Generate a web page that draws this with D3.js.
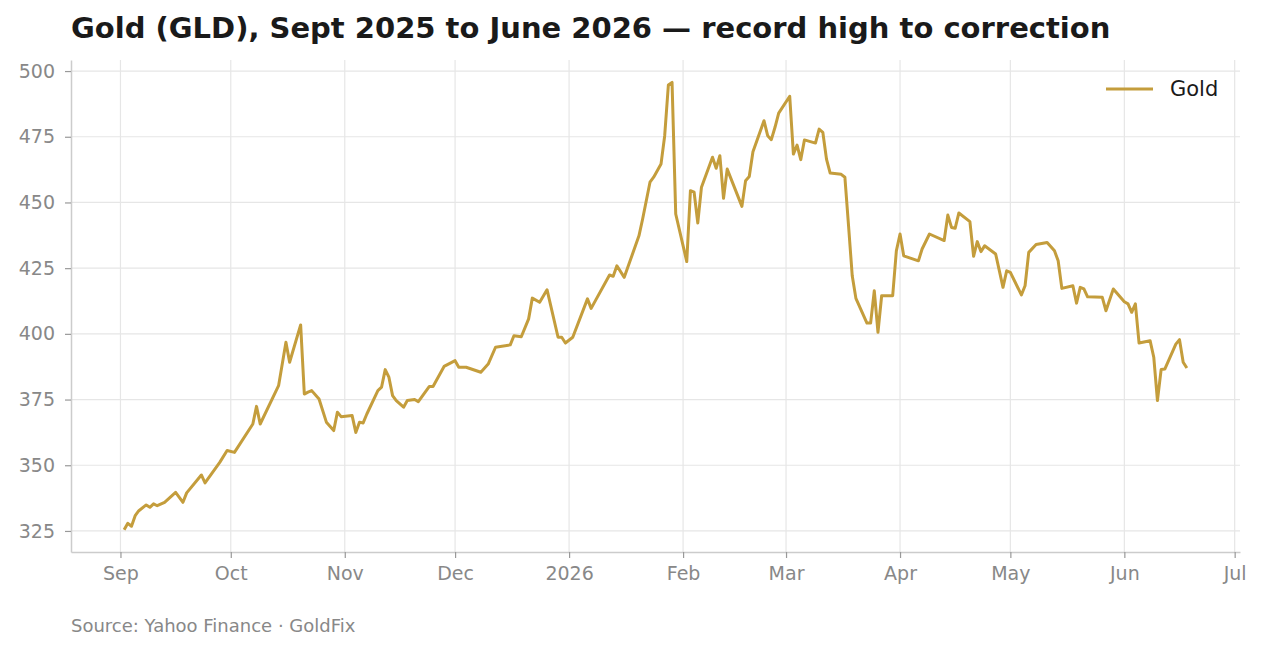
<!DOCTYPE html>
<html>
<head>
<meta charset="utf-8">
<script src="https://cdn.jsdelivr.net/npm/d3@7/dist/d3.min.js"></script>
<style>
body{margin:0;background:#fff;}
svg{display:block;font-family:'DejaVu Sans',sans-serif;}
</style>
</head>
<body>
<div id="root"></div>
<script>
// GLD closes
var dates=['2025-09-02','2025-09-03','2025-09-04','2025-09-05','2025-09-06','2025-09-08','2025-09-09','2025-09-10','2025-09-11','2025-09-13','2025-09-16','2025-09-18','2025-09-19','2025-09-23','2025-09-24','2025-09-28','2025-09-30',
'2025-10-02','2025-10-07','2025-10-08','2025-10-09','2025-10-14','2025-10-16','2025-10-17','2025-10-20','2025-10-21','2025-10-22','2025-10-23','2025-10-25','2025-10-27','2025-10-29','2025-10-30','2025-10-31',
'2025-11-03','2025-11-04','2025-11-05','2025-11-06','2025-11-07','2025-11-10','2025-11-11','2025-11-12','2025-11-13','2025-11-14','2025-11-15','2025-11-17','2025-11-18','2025-11-20','2025-11-21','2025-11-24','2025-11-25','2025-11-28',
'2025-12-01','2025-12-02','2025-12-04','2025-12-08','2025-12-10','2025-12-12','2025-12-16','2025-12-17','2025-12-19','2025-12-21','2025-12-22','2025-12-24','2025-12-26','2025-12-29','2025-12-30','2025-12-31',
'2026-01-02','2026-01-06','2026-01-07','2026-01-12','2026-01-13','2026-01-14','2026-01-16','2026-01-20','2026-01-21','2026-01-23','2026-01-24','2026-01-26','2026-01-27','2026-01-28','2026-01-29','2026-01-30',
'2026-02-02','2026-02-03','2026-02-04','2026-02-05','2026-02-06','2026-02-09','2026-02-10','2026-02-11','2026-02-12','2026-02-13','2026-02-17','2026-02-18','2026-02-19','2026-02-20','2026-02-23','2026-02-24','2026-02-25','2026-02-26','2026-02-27',
'2026-03-02','2026-03-03','2026-03-04','2026-03-05','2026-03-06','2026-03-09','2026-03-10','2026-03-11','2026-03-12','2026-03-13','2026-03-16','2026-03-17','2026-03-18','2026-03-19','2026-03-20','2026-03-23','2026-03-24','2026-03-25','2026-03-26','2026-03-27','2026-03-30','2026-03-31',
'2026-04-01','2026-04-02','2026-04-06','2026-04-07','2026-04-09','2026-04-13','2026-04-14','2026-04-15','2026-04-16','2026-04-17','2026-04-20','2026-04-21','2026-04-22','2026-04-23','2026-04-24','2026-04-27','2026-04-29','2026-04-30',
'2026-05-01','2026-05-04','2026-05-05','2026-05-06','2026-05-08','2026-05-11','2026-05-13','2026-05-14','2026-05-15','2026-05-18','2026-05-19','2026-05-20','2026-05-21','2026-05-22','2026-05-26','2026-05-27','2026-05-29',
'2026-06-01','2026-06-02','2026-06-03','2026-06-04','2026-06-05','2026-06-08','2026-06-09','2026-06-10','2026-06-11','2026-06-12','2026-06-15','2026-06-16','2026-06-17','2026-06-18'];

var prices=[325.5,327.9,326.8,330.8,332.7,334.9,334.0,335.3,334.6,335.9,339.7,335.9,339.5,346.3,343.3,351.1,355.6,
354.9,365.7,372.4,365.7,380.3,396.8,389.2,403.4,377.1,377.8,378.4,375.2,366.4,363.2,370.2,368.5,
368.9,362.5,366.4,366.1,369.5,378.4,379.7,386.4,383.5,376.5,374.6,372.1,374.6,375.0,374.2,380.0,380.0,387.6,
389.8,387.3,387.3,385.4,388.5,394.9,395.8,399.3,398.9,405.7,413.6,412.0,416.8,398.7,398.7,396.5,
398.7,413.3,409.7,422.4,421.9,425.9,421.5,437.3,443.7,457.7,459.6,464.6,475.4,494.7,495.7,445.6,
427.5,454.5,453.9,442.2,455.8,467.2,463.0,467.8,451.6,462.7,448.5,458.3,459.9,469.3,481.1,475.4,473.9,478.6,484.0,
490.4,468.4,471.8,466.3,473.8,472.6,477.9,476.7,466.5,461.2,460.7,459.6,441.1,422.1,413.5,404.1,404.1,416.4,400.6,414.5,414.5,431.6,
438.0,429.7,427.8,432.3,438.0,435.5,445.2,440.5,440.2,446.0,442.7,429.5,435.1,431.3,433.5,430.4,417.7,424.0,
423.4,414.8,418.3,431.0,434.0,434.8,431.6,427.8,417.3,418.3,411.7,417.7,417.1,414.1,413.9,408.8,417.1,
412.2,411.4,408.2,411.4,396.5,397.4,391.1,374.6,386.4,386.6,396.1,397.8,389.2,387.0];

var yTicks=[325,350,375,400,425,450,475,500];
var seriesName='Gold';
var title='Gold (GLD), Sept 2025 to June 2026 \u2014 record high to correction';
var source='Source: Yahoo Finance \u00b7 GoldFix';

var W=1263,H=652;
var b={t:60,r:23,b:100,l:71};
var w=W-b.l-b.r, h=H-b.t-b.b;
var gold='#c49d3c';

var parse=d3.timeParse('%Y-%m-%d');
var data=dates.map(function(d,i){return {date:parse(d),v:prices[i]}});

var svg=d3.select('#root').append('svg').attr('width',W).attr('height',H);
var g=svg.append('g').attr('transform','translate('+b.l+','+b.t+')');

// matplotlib-style 5% margins
var xe=d3.extent(data,function(d){return d.date});
var xpad=(xe[1]-xe[0])*0.05;
var x=d3.scaleTime().domain([new Date(+xe[0]-xpad),new Date(+xe[1]+xpad)]).range([0,w]);
var ye=d3.extent(data,function(d){return d.v});
var ypad=(ye[1]-ye[0])*0.05;
var y=d3.scaleLinear().domain([ye[0]-ypad,ye[1]+ypad]).range([h,0]);

var months=x.ticks(d3.timeMonth.every(1));

// grid
g.append('g').selectAll('line').data(yTicks).enter().append('line')
  .attr('x1',0).attr('x2',w).attr('y1',function(d){return y(d)}).attr('y2',function(d){return y(d)})
  .attr('stroke','#e6e6e6').attr('stroke-width',1.2);
g.append('g').selectAll('line').data(months).enter().append('line')
  .attr('y1',0).attr('y2',h).attr('x1',function(d){return x(d)}).attr('x2',function(d){return x(d)})
  .attr('stroke','#e6e6e6').attr('stroke-width',1.2);

var fmt=function(d){return d.getMonth()===0?d3.timeFormat('%Y')(d):d3.timeFormat('%b')(d)};
var xAxis=d3.axisBottom(x).tickValues(months).tickFormat(fmt).tickSizeInner(6).tickSizeOuter(0).tickPadding(9);
var yAxis=d3.axisLeft(y).tickValues(yTicks).tickSizeInner(6).tickSizeOuter(0).tickPadding(10);

var gx=g.append('g').attr('transform','translate(0,'+h+')').call(xAxis);
var gy=g.append('g').call(yAxis);
[gx,gy].forEach(function(a){
  a.select('.domain').attr('stroke','#cccccc').attr('stroke-width',1.5);
  a.selectAll('.tick line').attr('stroke','#999').attr('stroke-width',1.2);
  a.selectAll('.tick text').attr('fill','#888').style('font-size','19px').style('font-family','DejaVu Sans');
});

var line=d3.line().x(function(d){return x(d.date)}).y(function(d){return y(d.v)});
g.append('path').datum(data).attr('d',line).attr('fill','none')
  .attr('stroke',gold).attr('stroke-width',3).attr('stroke-linejoin','round');

// legend
var lg=g.append('g').attr('transform','translate('+(1106-b.l)+','+(89-b.t)+')');
lg.append('line').attr('x1',0).attr('x2',47).attr('y1',0).attr('y2',0).attr('stroke',gold).attr('stroke-width',3);
lg.append('text').attr('x',64).attr('dy','0.35em').text(seriesName)
  .style('font-size','21px').attr('fill','#1a1a1a');

svg.append('text').attr('x',71).attr('y',38).text(title)
  .style('font-size','29px').style('font-weight','bold').attr('fill','#1a1a1a');
svg.append('text').attr('x',71).attr('y',632).text(source)
  .style('font-size','18px').attr('fill','#888');
</script>
</body>
</html>
